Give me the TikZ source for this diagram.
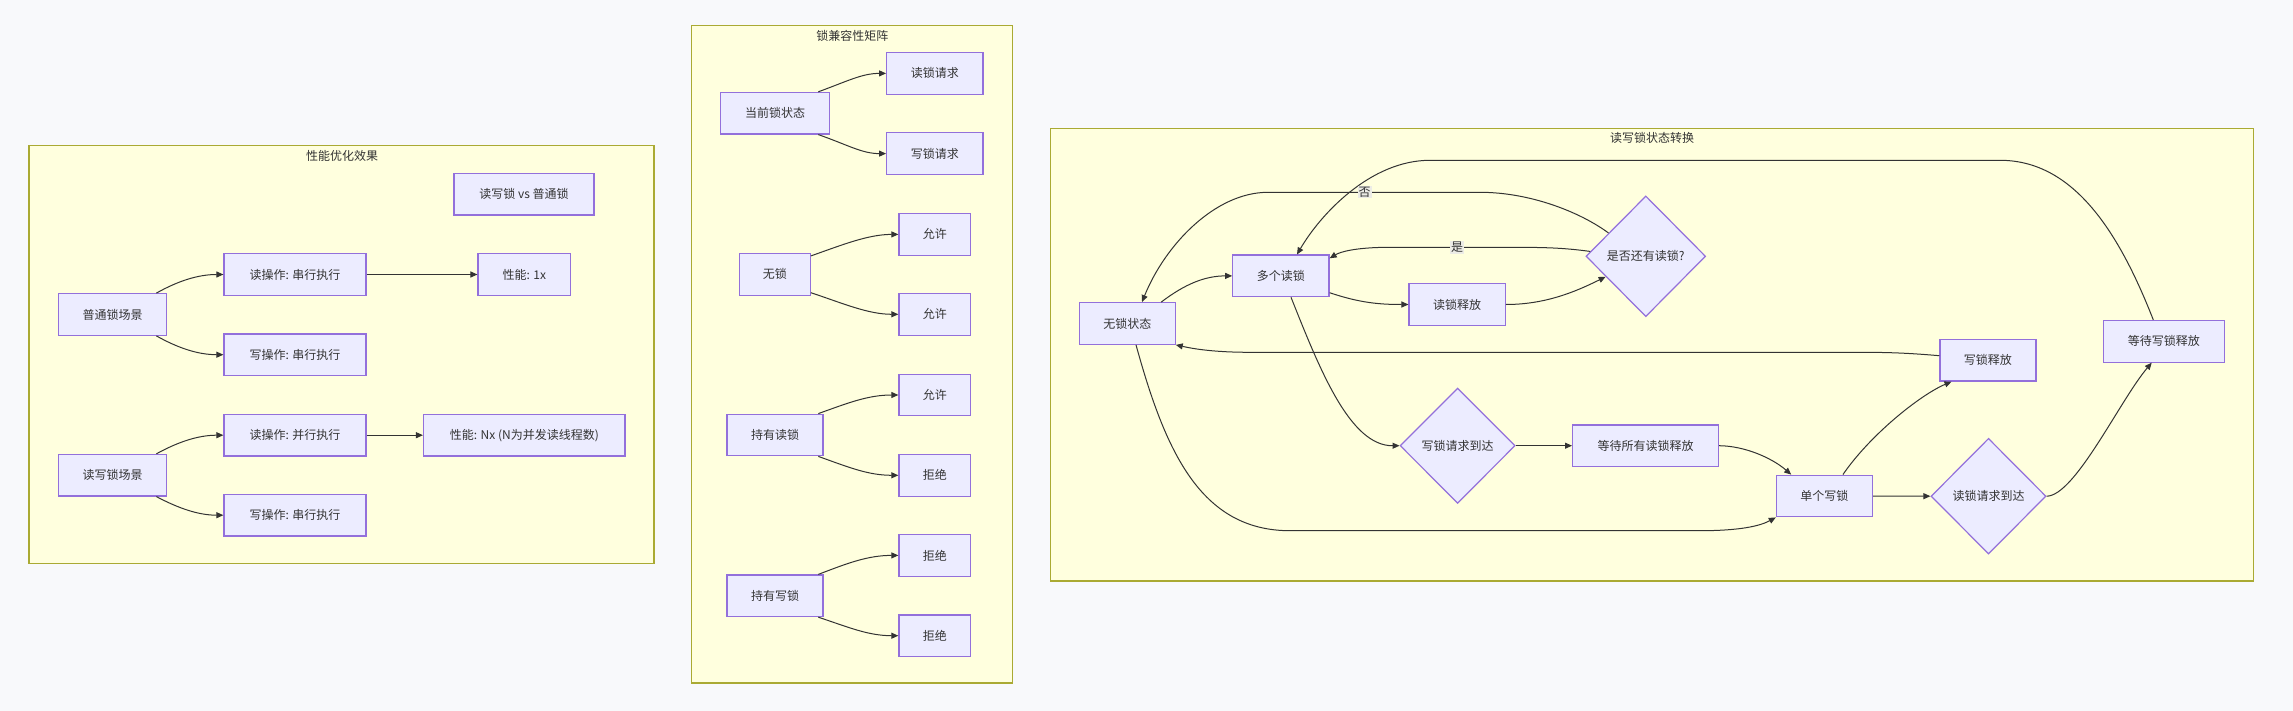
\documentclass[tikz,border=0pt]{standalone}
\usepackage{fontspec}
\setmainfont{Noto Sans CJK SC}
\usetikzlibrary{shapes.geometric,arrows.meta}
\definecolor{bgc}{HTML}{F8F9FB}
\definecolor{clfill}{HTML}{FFFFDE}
\definecolor{cldraw}{HTML}{AAAA33}
\definecolor{nfill}{HTML}{ECECFF}
\definecolor{ndraw}{HTML}{9370DB}
\definecolor{edgec}{HTML}{333333}
\definecolor{txtc}{HTML}{333333}
\definecolor{lblc}{RGB}{236,236,230}
\newcommand{\fsz}{\fontsize{12}{14}\selectfont}
\tikzset{
  box/.style={draw=ndraw, fill=nfill, line width=1.2pt, inner sep=0pt, minimum height=41.6pt, text=txtc, font=\fsz},
  dia/.style={diamond, draw=ndraw, fill=nfill, line width=1.2pt, inner sep=0pt, text=txtc, font=\fsz},
  cluster/.style={draw=cldraw, fill=clfill, line width=1.2pt, inner sep=0pt},
  ctitle/.style={text=txtc, font=\fsz, inner sep=0pt},
  arr/.style={draw=edgec, line width=1pt, -{Triangle[length=7pt,width=6pt]}},
  elabel/.style={fill=lblc, text=txtc, font=\fsz, inner sep=1pt}
}
\begin{document}
\begin{tikzpicture}[x=1pt,y=-1pt]
\fill[bgc] (0,0) rectangle (2293,711);
\useasboundingbox (0,0) rectangle (2293,711);

% ---------------- clusters ----------------
\node[cluster, minimum width=625pt, minimum height=417.6pt] (c1) at (341.5,354.5) {};
\node[ctitle] (t1) at (342,156) {性能优化效果};
\node[cluster, minimum width=320.6pt, minimum height=657.6pt] (c2) at (852,354.2) {};
\node[ctitle] (t2) at (852.3,35.7) {锁兼容性矩阵};
\node[cluster, minimum width=1203.3pt, minimum height=452.7pt] (c3) at (1651.85,354.65) {};
\node[ctitle] (t3) at (1652,137.5) {读写锁状态转换};

% ---------------- performance panel ----------------
\node[box, minimum width=140pt] (vs) at (524,194.2) {读写锁 vs 普通锁};
\node[box, minimum width=108.2pt] (nrm) at (112.6,314.5) {普通锁场景};
\node[box, minimum width=142pt] (r1) at (295,274.5) {读操作: 串行执行};
\node[box, minimum width=142pt] (w1) at (295,354.7) {写操作: 串行执行};
\node[box, minimum width=92.5pt] (p1) at (524.3,274.5) {性能: 1x};
\node[box, minimum width=108.2pt] (rw) at (112.6,475.2) {读写锁场景};
\node[box, minimum width=142pt] (r2) at (295,435.2) {读操作: 并行执行};
\node[box, minimum width=142pt] (w2) at (295,515.2) {写操作: 串行执行};
\node[box, minimum width=201.5pt] (pn) at (524.3,435.2) {性能: Nx (N为并发读线程数)};

\draw[arr] ([xshift=43.8pt]nrm.north) .. controls (178,281) and (198,274.5) .. (r1.west);
\draw[arr] ([xshift=43.8pt]nrm.south) .. controls (178,348) and (198,354.7) .. (w1.west);
\draw[arr] (r1.east) -- (p1.west);
\draw[arr] ([xshift=43.8pt]rw.north) .. controls (178,442) and (198,435.2) .. (r2.west);
\draw[arr] ([xshift=43.8pt]rw.south) .. controls (178,508) and (198,515.2) .. (w2.west);
\draw[arr] (r2.east) -- (pn.west);

% ---------------- compatibility panel ----------------
\node[box, minimum width=108.6pt] (cur) at (775,113.2) {当前锁状态};
\node[box, minimum width=96.3pt] (rq) at (934.8,73.4) {读锁请求};
\node[box, minimum width=96.3pt] (wq) at (934.8,153.6) {写锁请求};
\node[box, minimum width=71pt] (nl) at (774.8,274.3) {无锁};
\node[box, minimum width=71.7pt] (a1) at (934.8,234.4) {允许};
\node[box, minimum width=71.7pt] (a2) at (934.8,314.3) {允许};
\node[box, minimum width=96pt] (hr) at (775,435) {持有读锁};
\node[box, minimum width=71.7pt] (a3) at (934.8,395) {允许};
\node[box, minimum width=71.7pt] (d1x) at (934.8,475.3) {拒绝};
\node[box, minimum width=96pt] (hw) at (775,595.8) {持有写锁};
\node[box, minimum width=71.7pt] (d2x) at (934.8,555.4) {拒绝};
\node[box, minimum width=71.7pt] (d3x) at (934.8,635.7) {拒绝};

\draw[arr] ([xshift=43.3pt]cur.north) .. controls (848,81) and (862,73.4) .. (rq.west);
\draw[arr] ([xshift=43.3pt]cur.south) .. controls (848,145) and (862,153.6) .. (wq.west);
\draw[arr] ([yshift=-3pt]nl.north east) .. controls (842,245) and (868,234.4) .. (a1.west);
\draw[arr] ([yshift=3pt]nl.south east) .. controls (842,303) and (868,314.3) .. (a2.west);
\draw[arr] ([xshift=43.3pt]hr.north) .. controls (848,403) and (868,395) .. (a3.west);
\draw[arr] ([xshift=43.3pt]hr.south) .. controls (848,467) and (868,475.3) .. (d1x.west);
\draw[arr] ([xshift=43.3pt]hw.north) .. controls (848,563) and (868,555.4) .. (d2x.west);
\draw[arr] ([xshift=43.3pt]hw.south) .. controls (848,627) and (868,635.7) .. (d3x.west);

% ---------------- state transition panel ----------------
\node[box, minimum width=95.5pt] (ns) at (1127.4,323.5) {无锁状态};
\node[box, minimum width=96.3pt] (mr) at (1280.9,275.9) {多个读锁};
\node[box, minimum width=96.3pt] (rr) at (1457.2,304.5) {读锁释放};
\node[dia, minimum width=119.6pt, minimum height=120.7pt] (q) at (1645.8,256.3) {是否还有读锁?};
\node[dia, minimum width=115pt, minimum height=115.3pt] (wa) at (1457.6,445.7) {写锁请求到达};
\node[box, minimum width=146pt] (war) at (1645.6,445.7) {等待所有读锁释放};
\node[box, minimum width=96pt] (sw) at (1824.4,496) {单个写锁};
\node[box, minimum width=96pt] (wr) at (1987.9,360.2) {写锁释放};
\node[dia, minimum width=115pt, minimum height=115.7pt] (ra) at (1988.5,496.2) {读锁请求到达};
\node[box, minimum width=121pt] (ww) at (2163.9,341.3) {等待写锁释放};

\draw[arr] ([xshift=33.8pt]ns.north) .. controls (1185,284) and (1205,275.9) .. (mr.west);
\draw[arr] ([yshift=-16.8pt]mr.east) .. controls (1360,303) and (1380,304.5) .. (rr.west);
\draw[arr] (rr.east) .. controls (1545,304.5) and (1575,292) .. (q.207);
\draw[arr] (q.175) .. controls (1560,247.3) and (1540,247.3) .. (1500,247.3) -- (1390,247.3)
  .. controls (1355,247.3) and (1340,252) .. ([yshift=17.6pt]mr.east);
\draw[arr] (q.148) .. controls (1580,212) and (1530,192.3) .. (1480,192.3) -- (1268,192.3)
  .. controls (1215,192.3) and (1165,245) .. ([xshift=14.6pt]ns.north);
\draw[arr] ([xshift=-10.6pt]ww.north) .. controls (2120,235) and (2075,160.3) .. (2000,160.3) -- (1430,160.3)
  .. controls (1370,160.3) and (1320,215) .. ([xshift=16.1pt]mr.north);
\draw[arr] ([yshift=4.5pt]wr.west) .. controls (1900,352.3) and (1880,352.3) .. (1850,352.3) -- (1250,352.3)
  .. controls (1210,352.3) and (1190,348) .. (ns.south east);
\draw[arr] ([xshift=10.1pt]mr.south) .. controls (1320,370) and (1350,446) .. (wa.west);
\draw[arr] (wa.east) -- (war.west);
\draw[arr] (war.east) .. controls (1745,446) and (1772,458) .. ([xshift=-33.2pt]sw.north);
\draw[arr] ([xshift=8.6pt]ns.south) .. controls (1165,450) and (1200,530.7) .. (1290,530.7) -- (1700,530.7)
  .. controls (1740,530.7) and (1760,526) .. (sw.south west);
\draw[arr] ([xshift=18.5pt]sw.north) .. controls (1870,435) and (1920,395) .. ([xshift=-36.4pt]wr.south);
\draw[arr] (sw.east) -- (ra.west);
\draw[arr] (ra.east) .. controls (2075,496) and (2120,400) .. ([xshift=-12.2pt]ww.south);

\node[elabel] (lyes) at (1457,247.3) {是};
\node[elabel] (lno) at (1364.5,192.3) {否};
\end{tikzpicture}
\end{document}
